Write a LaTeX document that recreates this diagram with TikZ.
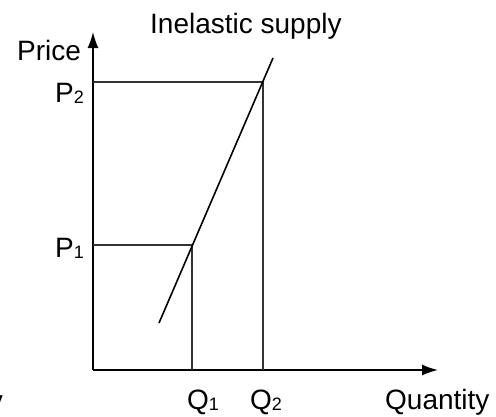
\documentclass[tikz,border=0pt]{standalone}
\usepackage{fontspec}
\setmainfont{Liberation Sans}
\usepackage{tikz}
\usetikzlibrary{
  arrows.meta,
  positioning
}

\tikzset{
  axis/.style={line width=1.5pt, -{Latex[length=16pt,width=11pt]}},
  guide/.style={line width=1.4pt, black!80},
  curve/.style={line width=1.6pt},
  lbl/.style={inner sep=0pt, anchor=base west, font=\fontsize{28}{34}\selectfont}
}
\newcommand{\idx}[1]{\raisebox{-1.5pt}{\fontsize{18}{20}\selectfont #1}}

\begin{document}
\begin{tikzpicture}[x=1pt,y=-1pt]
\useasboundingbox (0,0) rectangle (496,416);

% Axes
\coordinate (origin) at (93,370);
\coordinate (ytop) at (93,32);
\coordinate (xend) at (438,370);
\draw[axis] (origin) -- (ytop);
\draw[axis] (origin) -- (xend);

% Equilibrium points and axis feet
\coordinate (e1) at (192,245);
\coordinate (e2) at (263,82);
\coordinate (p1) at (93,245);
\coordinate (p2) at (93,82);
\coordinate (q1) at (192,370);
\coordinate (q2) at (263,370);

\draw[guide] (p1) -- (e1) -- (q1);
\draw[guide] (p2) -- (e2) -- (q2);

% Supply line
\coordinate (slow) at (159,323);
\coordinate (shigh) at (273,58);
\draw[curve] (slow) -- (shigh);

% Labels
\node[lbl] (price) at (17,60) {Price};
\node[lbl] (quantity) at (385,409) {Quantity};
\node[lbl] (P2) at (55,102) {P\idx{2}};
\node[lbl] (P1) at (55,257) {P\idx{1}};
\node[lbl] (Q1) at (187,409) {Q\idx{1}};
\node[lbl] (Q2) at (250,409) {Q\idx{2}};
\node[lbl] (title) at (150,33) {Inelastic supply};
\node[lbl, anchor=base east] (cut) at (3,410) {y};

\end{tikzpicture}
\end{document}
